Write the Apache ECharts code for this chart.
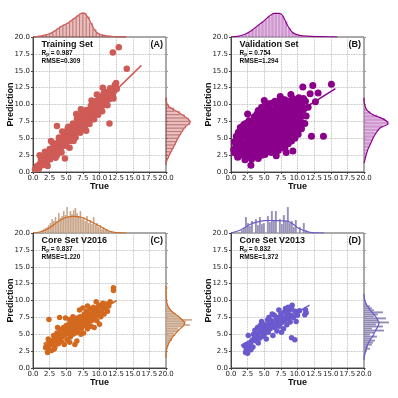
<!DOCTYPE html>
<html>
<head>
<meta charset="utf-8">
<script src="https://cdn.jsdelivr.net/npm/echarts@6/dist/echarts.min.js"></script>
<style>
  html, body { margin: 0; padding: 0; background: #fff; }
  #chart { width: 398px; height: 398px; }
</style>
</head>
<body>
<div id="chart"></div>
<script>
// values: [true, prediction]
const trainPoints = [
  [0.3,0.4],[0.6,0.9],[0.9,0.5],[1.0,1.2],[1.2,1.8],[1.4,1.0],[1.5,2.2],[1.7,1.4],[1.9,2.0],[2.0,2.6],
  [2.1,1.5],[2.3,2.1],[2.4,3.0],[2.5,2.4],[2.6,1.9],[2.8,2.8],[2.9,3.5],[3.0,2.5],[3.1,3.1],[3.2,3.9],
  [3.3,2.8],[3.4,3.3],[3.5,4.0],[3.6,3.0],[3.7,3.6],[3.8,4.4],[3.9,3.2],[4.0,3.9],[4.1,4.7],[4.2,3.6],
  [4.3,4.2],[4.4,5.0],[4.5,3.9],[4.6,4.5],[4.7,5.3],[4.8,4.2],[4.9,4.9],[5.0,5.6],[5.1,4.5],[5.2,5.2],
  [5.3,6.0],[5.4,4.8],[5.5,5.5],[5.6,6.3],[5.7,5.0],[5.8,5.8],[5.9,6.6],[6.0,5.3],[6.1,6.1],[6.2,6.8],
  [6.3,5.6],[6.4,6.4],[6.5,7.1],[6.6,5.9],[6.7,6.7],[6.8,7.4],[6.9,6.2],[7.0,7.0],[7.1,7.8],[7.2,6.5],
  [7.3,7.3],[7.4,8.0],[7.5,6.8],[7.6,7.6],[7.7,8.3],[7.8,7.1],[7.9,7.9],[8.0,8.6],[8.1,7.4],[8.2,8.2],
  [8.3,8.9],[8.4,7.7],[8.5,8.5],[8.6,9.2],[8.7,8.0],[8.8,8.8],[8.9,9.5],[9.0,8.3],[9.1,9.1],[9.2,9.8],
  [9.3,8.6],[9.4,9.4],[9.5,10.1],[9.6,8.9],[9.7,9.7],[9.8,10.4],[9.9,9.2],[10.0,10.0],[10.1,10.7],[10.2,9.5],
  [10.3,10.3],[10.5,11.0],[10.6,9.9],[10.7,10.6],[10.9,11.4],[11.0,10.3],[11.2,11.0],[11.4,11.8],[11.5,10.8],[11.7,11.5],
  [11.9,12.2],[12.0,11.4],[12.2,12.0],[12.4,12.7],[12.6,12.3],[12.3,12.9],
  [1.8,3.0],[2.2,0.9],[3.0,4.3],[3.4,2.1],[3.9,5.1],[4.3,2.9],[4.6,5.8],[5.0,3.9],[5.3,6.7],[5.8,4.6],
  [6.0,7.2],[6.4,5.1],[6.8,8.0],[7.1,5.8],[7.4,8.6],[7.8,6.5],[8.1,9.2],[8.5,7.1],[8.7,9.8],[9.2,7.8],
  [9.4,10.5],[9.8,8.5],[10.0,11.0],[10.4,9.0],[10.8,11.9],[11.2,9.9],[11.6,12.4],[12.1,10.9],[12.5,13.2],[5.2,6.4],
  [6.6,7.9],[7.9,9.1],[4.0,4.9],[9.0,10.2],[10.6,11.6],[2.5,3.4],[3.6,2.5],[6.2,5.0],[7.6,6.4],[8.9,7.8],
  [3.6,6.8],[12.0,17.7],[12.9,18.5],[14.1,15.3],[11.5,7.2],[9.6,11.5],[4.8,2.0],[1.0,2.5],[6.5,8.6],[8.0,6.1],
  [2.7,4.6],[5.5,3.6],[10.5,12.5],[7.2,9.3],[8.8,10.6],[6.1,4.6],[4.4,6.0],[9.9,11.2]
];
const validPoints = [
  [0.6,2.8],[0.7,3.7],[0.5,4.5],[0.8,5.3],
  [1.1,2.3],[1.2,3.2],[1.0,4.1],[1.3,5.0],[1.1,5.9],[1.4,6.6],
  [1.6,2.6],[1.7,3.5],[1.5,4.4],[1.8,5.3],[1.6,6.2],[1.9,7.0],
  [2.1,1.8],[2.2,2.7],[2.0,3.6],[2.3,4.5],[2.1,5.4],[2.4,6.3],[2.2,7.2],
  [2.6,2.2],[2.7,3.1],[2.5,4.0],[2.8,4.9],[2.6,5.8],[2.9,6.7],[2.7,7.6],
  [3.1,1.9],[3.2,2.8],[3.0,3.7],[3.3,4.6],[3.1,5.5],[3.4,6.4],[3.2,7.3],[3.5,8.2],
  [3.6,2.3],[3.7,3.2],[3.5,4.1],[3.8,5.0],[3.6,5.9],[3.9,6.8],[3.7,7.7],[3.9,8.6],
  [4.1,2.0],[4.2,2.9],[4.0,3.8],[4.3,4.7],[4.1,5.6],[4.4,6.5],[4.2,7.4],[4.3,8.3],[4.1,9.1],
  [4.6,2.5],[4.7,3.4],[4.5,4.3],[4.8,5.2],[4.6,6.1],[4.9,7.0],[4.7,7.9],[4.8,8.8],[4.6,9.6],
  [5.1,2.6],[5.2,3.5],[5.0,4.4],[5.3,5.3],[5.1,6.2],[5.4,7.1],[5.2,8.0],[5.3,8.9],[5.1,9.8],
  [5.6,3.0],[5.7,3.9],[5.5,4.8],[5.8,5.7],[5.6,6.6],[5.9,7.5],[5.7,8.4],[5.8,9.3],[5.6,10.1],
  [6.1,2.9],[6.2,3.8],[6.0,4.7],[6.3,5.6],[6.1,6.5],[6.4,7.4],[6.2,8.3],[6.3,9.2],[6.1,10.2],
  [6.6,3.3],[6.7,4.2],[6.5,5.1],[6.8,6.0],[6.6,6.9],[6.9,7.8],[6.7,8.7],[6.8,9.6],[6.6,10.5],
  [7.1,3.2],[7.2,4.1],[7.0,5.0],[7.3,5.9],[7.1,6.8],[7.4,7.7],[7.2,8.6],[7.3,9.5],[7.1,10.4],
  [7.6,3.6],[7.7,4.5],[7.5,5.4],[7.8,6.3],[7.6,7.2],[7.9,8.1],[7.7,9.0],[7.8,9.9],[7.6,10.8],
  [8.1,3.5],[8.2,4.4],[8.0,5.3],[8.3,6.2],[8.1,7.1],[8.4,8.0],[8.2,8.9],[8.3,9.8],[8.1,10.7],
  [8.6,4.2],[8.7,5.1],[8.5,6.0],[8.8,6.9],[8.6,7.8],[8.9,8.7],[8.7,9.6],[8.8,10.5],
  [9.1,4.6],[9.2,5.5],[9.0,6.4],[9.3,7.3],[9.1,8.2],[9.4,9.1],[9.2,10.0],[9.3,10.9],
  [9.6,5.0],[9.7,5.9],[9.5,6.8],[9.8,7.7],[9.6,8.6],[9.9,9.5],[9.7,10.4],
  [10.1,5.6],[10.2,6.5],[10.0,7.4],[10.3,8.3],[10.1,9.2],[10.4,10.1],[10.2,11.0],
  [10.6,6.4],[10.7,7.3],[10.5,8.2],[10.8,9.1],[10.6,10.0],[10.9,10.9],
  [11.1,7.2],[11.3,8.3],[11.0,9.4],[11.2,10.5],
  [3.0,1.0],[15.1,13.0],[13.9,5.3],[12.3,12.8],[10.8,12.6],[9.3,3.1],[12.1,5.3],[11.6,9.6],[12.7,10.4],[13.1,11.7],
  [1.0,2.2],[11.9,11.6],[0.4,3.3],[2.5,8.6],[5.0,10.6],[7.4,11.2],[9.0,11.5],[8.3,2.9],[6.8,2.4]
];
const core2016Points = [
  [2.2,2.3],[2.3,2.8],[2.4,3.3],[2.5,3.8],[2.3,4.3],[2.4,7.2],[2.8,2.6],[2.9,3.5],[3.0,4.1],[3.1,4.8],
  [3.3,3.1],[3.4,3.9],[3.5,4.5],[3.6,5.2],[3.8,3.6],[3.9,4.3],[4.0,5.0],[4.0,7.5],[4.1,5.7],[4.3,3.9],
  [4.4,4.6],[4.5,5.3],[4.6,6.0],[4.7,3.5],[4.8,4.9],[4.9,5.6],[5.0,6.3],[5.1,4.2],[5.2,5.1],[5.3,5.8],
  [5.4,6.5],[5.5,7.2],[5.6,4.6],[5.7,5.4],[5.8,6.1],[5.9,6.8],[6.0,5.0],[6.1,5.7],[6.2,6.4],[6.3,7.1],
  [6.3,3.5],[6.4,5.2],[6.5,6.0],[6.6,6.7],[6.7,7.4],[6.8,5.5],[6.9,6.2],[7.0,6.9],[7.1,7.6],[7.2,5.0],
  [7.3,5.9],[7.4,6.6],[7.5,7.3],[7.6,5.2],[7.7,8.0],[7.8,6.3],[7.9,7.0],[8.0,7.7],[8.1,8.4],[8.2,5.8],
  [8.3,6.6],[8.4,7.3],[8.5,8.0],[8.6,8.8],[8.7,6.2],[8.8,7.0],[8.9,7.7],[9.0,8.4],[9.1,9.0],[9.2,6.0],
  [9.3,7.3],[9.4,8.1],[9.5,8.8],[9.6,7.0],[9.7,7.8],[9.8,8.5],[9.9,9.3],[10.0,6.5],[10.2,7.6],[10.3,8.3],
  [10.4,9.0],[10.5,9.6],[10.7,8.0],[10.9,8.8],[11.0,9.5],[11.2,8.4],[11.4,9.2],[11.6,9.8],[12.1,11.9],[12.1,11.5],
  [3.2,2.8],[5.5,3.8],[6.6,4.0],[7.0,8.6],[8.2,9.2],[6.0,7.6],[4.9,7.4],[3.7,6.0],[9.5,9.8],[7.5,8.9],
  [2.0,3.3],[1.9,3.0]
];
const core2013Points = [
  [2.2,2.3],[2.3,2.7],[2.4,3.0],[2.3,3.5],[2.0,3.3],[2.6,4.8],[2.8,3.3],[3.0,3.8],[3.2,4.1],[3.3,3.1],
  [3.5,4.5],[3.6,5.6],[3.8,4.0],[3.9,4.9],[4.0,6.0],[4.2,5.2],[4.3,4.4],[4.4,6.3],[4.5,5.5],[4.6,6.9],
  [4.8,4.7],[4.9,5.8],[5.0,5.0],[5.1,6.4],[5.2,5.4],[5.4,6.0],[5.5,7.1],[5.6,5.3],[5.8,6.6],[5.9,5.8],
  [6.0,6.2],[6.1,7.0],[6.3,4.8],[6.4,6.5],[6.5,7.8],[6.6,6.0],[6.8,7.2],[6.9,5.5],[7.0,6.6],[7.1,7.5],
  [7.3,6.2],[7.4,7.0],[7.5,8.0],[7.6,6.7],[7.8,7.4],[7.9,5.8],[8.0,8.3],[8.1,7.0],[8.2,8.8],[8.3,7.6],
  [8.4,6.4],[8.5,8.1],[8.6,9.0],[8.7,7.3],[8.8,8.6],[8.9,6.8],[9.0,7.8],[9.1,8.9],[9.2,9.3],[9.1,4.5],
  [9.6,4.2],[9.4,7.5],[9.6,8.4],[9.8,6.9],[10.0,7.8],[10.3,8.5],[11.1,7.9],[11.3,8.2],[11.2,8.6],[3.0,2.7],
  [4.1,3.7],[5.3,4.3],[6.2,8.0],[7.2,8.6],[8.4,8.5],[7.6,5.3],[5.7,7.5],[4.7,6.0],[3.4,5.0],[2.5,2.2]
];

// regression line end points
const trainFit = [[0.1, 0.2], [16.3, 15.8]];
const validFit = [[0.0, 2.65], [15.7, 12.35]];
const core2016Fit = [[1.6, 3.6], [12.6, 10.0]];
const core2013Fit = [[1.5, 3.3], [11.8, 9.3]];

// marginal histograms (bar heights, arbitrary units)
const trainTrueHist = [0.2,0.5,1.1,1.9,2.7,4.0,6.0,8.2,10.5,12.3,14.0,16.2,18.8,21.3,23.5,24.0,20.0,13.5,7.5,3.8,2.3,1.5,1.0,0.6,0.4,0.25,0.15,0.1];
const trainPredHist = [0.2,0.8,2.5,4.0,5.8,7.7,9.5,11.0,12.8,15.0,17.0,19.5,24.0,22.5,18.5,13.5,8.0,3.0,0.8,0.3];
const validTrueHist = [0.2,0.5,0.9,1.8,3.2,5.0,7.2,10.0,12.5,15.0,17.5,20.5,23.0,24.0,24.0,21.5,15.5,9.0,5.0,2.8,1.7,1.0,0.7,0.5,0.4,0.3,0.25,0.2,0.15,0.1];
const validPredHist = [0.8,1.8,2.7,3.8,5.0,6.7,8.2,9.8,11.7,14.5,18.5,24.5,21.0,13.5,6.5,2.7,1.0,0.3];
const core2016TrueHist = [3,4,5,6,8,10,14,12,16,12,20,15,17,22,18,26,16,22,19,23,25,20,17,22,14,16,12,17,10,13,9,16,8,10,6,8,4,6,3,4,2,1.5,2,1];
const core2016PredHist = [0.5,1.5,2,3,2.5,4,6,5,7,9,8,11,13,12,16,24,18,20,26,15,13,10,8,6,5,3,2,1.5,1,0.5,0,0,0,0,0,0,0,1.5];
const core2013TrueHist = [3,5,16,10,7,12,0,14,8,16,9,10,0,17,11,22,13,22,0,14,9,18,12,26,10,12,6,13,0,6,0,10,3,2];
const core2013PredHist = [2,3,6,4,8,9,11,7,13,6,10,20,8,19,12,25,14,22,10,14,19,10,8,6,3];

// density curves: [value, density]
const trainTrueKde = [[0,0],[0.5,0.3],[1,0.8],[1.5,1.5],[2,2.3],[2.5,3.2],[3,5],[3.5,7],[4,9.5],[4.5,11.5],[5,13],[5.5,15],[6,17.5],[6.5,20],[7,22.5],[7.5,24.2],[8,22],[8.5,17],[9,10],[9.5,5],[10,2.8],[10.5,1.8],[11,1.2],[11.5,0.8],[12,0.5],[12.5,0.3],[13,0.2],[14,0.05]];
const trainPredKde = [[1.2,0],[1.5,0.3],[2.3,2.7],[3.0,5],[3.75,7.7],[4.5,10.2],[5.2,12.7],[6.0,16],[6.7,19.3],[7.1,22.5],[7.45,24.4],[7.95,21],[8.7,14],[9.2,8],[9.7,2.7],[10.3,0.5],[11,0]];
const validTrueKde = [[0,0.1],[1,0.7],[2,2.5],[3,6],[3.5,8.6],[4,11.2],[4.8,15.3],[5.8,21],[6.5,23.7],[7.3,23.7],[7.8,21],[8.5,11.5],[9.3,4.3],[10.3,1.7],[11.5,0.8],[13,0.4],[14.6,0.2],[16,0]];
const validPredKde = [[1.3,0],[2.0,1.2],[2.8,2.7],[3.5,4.3],[4.25,6.7],[5.0,9],[5.7,11.7],[6.3,14.5],[6.7,18],[7.1,24],[7.45,23.3],[7.95,18],[8.45,9.3],[9.2,2.7],[10.2,0.3],[11,0]];
const core2016TrueKde = [[0,0],[1,1.0],[2,3.3],[3,7.5],[3.8,11.7],[5,15.7],[6.3,16.7],[7.6,15],[8.8,11],[10.1,6.7],[11.3,2.3],[12.6,0.3],[14,0]];
const core2016PredKde = [[1.5,0],[2.7,0.5],[3.65,2.7],[4.6,6.7],[5.6,12.7],[6.2,17],[6.6,18.7],[7.0,17],[7.6,12.7],[8.6,4.3],[9.8,0.6],[11,0.1],[12.2,0]];
const core2013TrueKde = [[0,0],[1.5,3.3],[3,9],[4,11.2],[5,12.3],[6,12.5],[7,12.3],[8,12.2],[8.6,11.7],[9.4,8.5],[10.1,5],[11.3,1.7],[12.3,0.3],[14,0]];
const core2013PredKde = [[1.2,0],[1.7,0.3],[3.15,2.7],[4.0,5.5],[4.6,8.3],[5.6,11.7],[6.6,15],[7.6,11.7],[8.6,6],[9.4,2.5],[10.2,0.5],[11,0]];

const panels = [
  { name: 'Training Set', tag: '(A)', rp: '0.987', rmse: '0.309', color: '#cf5b56', size: 6.5,
    points: trainPoints, fit: trainFit,
    topHist: trainTrueHist, topBins: [0, 0.5], topKde: trainTrueKde,
    rightHist: trainPredHist, rightBins: [1, 0.5], rightKde: trainPredKde,
    fill: 'rgba(205,92,92,0.4)', edge: 'rgba(120,35,35,0.55)', edgeWidth: 0.5 },
  { name: 'Validation Set', tag: '(B)', rp: '0.754', rmse: '1.294', color: '#8b008b', size: 7,
    points: validPoints, fit: validFit,
    topHist: validTrueHist, topBins: [0, 0.5], topKde: validTrueKde,
    rightHist: validPredHist, rightBins: [1.5, 0.5], rightKde: validPredKde,
    fill: 'rgba(139,0,139,0.4)', edge: 'rgba(255,255,255,0.5)', edgeWidth: 0.5 },
  { name: 'Core Set V2016', tag: '(C)', rp: '0.837', rmse: '1.220', color: '#d2691e', size: 5.5,
    points: core2016Points, fit: core2016Fit,
    topHist: core2016TrueHist, topBins: [1.25, 0.25], topKde: core2016TrueKde,
    rightHist: core2016PredHist, rightBins: [2.5, 0.25], rightKde: core2016PredKde,
    fill: 'rgba(178,128,88,0.75)', edge: 'rgba(255,255,255,0.6)', edgeWidth: 0.3 },
  { name: 'Core Set V2013', tag: '(D)', rp: '0.832', rmse: '1.372', color: '#6a5acd', size: 5.5,
    points: core2013Points, fit: core2013Fit,
    topHist: core2013TrueHist, topBins: [1.5, 0.3], topKde: core2013TrueKde,
    rightHist: core2013PredHist, rightBins: [2.1, 0.3], rightKde: core2013PredKde,
    fill: 'rgba(110,100,155,0.75)', edge: 'rgba(255,255,255,0.6)', edgeWidth: 0.3 }
];

const W = 133, H = 135, M = 28;
const boxes = [[33, 37], [231, 37], [33, 233], [231, 233]];
const TICK_FONT = 'DejaVu Sans';
const TEXT_FONT = 'Liberation Sans';

function toBins(counts, [start, width]) {
  return counts.map((c, i) => [start + i * width, start + (i + 1) * width, c]);
}

function topRect(p) {
  return (params, api) => {
    const a = api.coord([api.value(0), api.value(2)]);
    const b = api.coord([api.value(1), 0]);
    return { type: 'rect', shape: { x: a[0], y: a[1], width: b[0] - a[0], height: b[1] - a[1] },
      style: { fill: p.fill, stroke: p.edge, lineWidth: p.edgeWidth } };
  };
}
function rightRect(p) {
  return (params, api) => {
    const a = api.coord([api.value(2), api.value(1)]);
    const b = api.coord([0, api.value(0)]);
    return { type: 'rect', shape: { x: b[0], y: a[1], width: a[0] - b[0], height: b[1] - a[1] },
      style: { fill: p.fill, stroke: p.edge, lineWidth: p.edgeWidth } };
  };
}

const grid = [], xAxis = [], yAxis = [], series = [], graphic = [];
const tickLabel = { fontSize: 7, color: '#222', fontFamily: TICK_FONT, margin: 3, formatter: v => v.toFixed(1) };
const dotted = { show: true, lineStyle: { type: 'dotted', color: '#aaa', width: 0.8 } };
const axisName = { fontFamily: TEXT_FONT, fontWeight: 'bold', fontSize: 9, color: '#111' };
const hidden = { show: false };

panels.forEach((p, i) => {
  const [left, top] = boxes[i];
  const g = grid.length;
  grid.push({ left, top, width: W, height: H, show: true, borderColor: '#555', borderWidth: 1 });
  grid.push({ left, top: top - M, width: W, height: M });
  grid.push({ left: left + W, top, width: M, height: H });

  xAxis.push({ gridIndex: g, type: 'value', min: 0, max: 20, interval: 2.5,
    name: 'True', nameLocation: 'middle', nameGap: 10.5, nameMoveOverlap: false, nameTextStyle: axisName,
    axisLine: { show: true, lineStyle: { color: '#444' } },
    axisTick: { show: true, length: 2, lineStyle: { color: '#444' } },
    axisLabel: tickLabel, splitLine: dotted });
  yAxis.push({ gridIndex: g, type: 'value', min: 0, max: 20, interval: 2.5,
    name: 'Prediction', nameLocation: 'middle', nameGap: 18, nameMoveOverlap: false, nameTextStyle: axisName,
    axisLine: { show: true, lineStyle: { color: '#444' } },
    axisTick: { show: true, length: 2, lineStyle: { color: '#444' } },
    axisLabel: tickLabel, splitLine: dotted });

  xAxis.push({ gridIndex: g + 1, type: 'value', min: 0, max: 20, ...hidden });
  yAxis.push({ gridIndex: g + 1, type: 'value', min: 0, max: M, ...hidden });
  xAxis.push({ gridIndex: g + 2, type: 'value', min: 0, max: M, ...hidden });
  yAxis.push({ gridIndex: g + 2, type: 'value', min: 0, max: 20, interval: 2.5,
    axisLine: hidden, axisLabel: hidden, splitLine: hidden,
    axisTick: { show: true, inside: true, length: 2, lineStyle: { color: '#999' } } });

  series.push({ type: 'scatter', xAxisIndex: g, yAxisIndex: g, data: p.points,
    symbolSize: p.size, itemStyle: { color: p.color, opacity: 1 } });
  series.push({ type: 'line', xAxisIndex: g, yAxisIndex: g, data: p.fit, symbol: 'none',
    lineStyle: { color: p.color, width: 1.5 }, z: 3 });

  series.push({ type: 'custom', xAxisIndex: g + 1, yAxisIndex: g + 1,
    data: toBins(p.topHist, p.topBins), renderItem: topRect(p) });
  series.push({ type: 'line', xAxisIndex: g + 1, yAxisIndex: g + 1, data: p.topKde,
    smooth: 0.3, symbol: 'none', lineStyle: { color: p.color, width: 1.2 }, z: 3 });

  series.push({ type: 'custom', xAxisIndex: g + 2, yAxisIndex: g + 2,
    data: toBins(p.rightHist, p.rightBins), renderItem: rightRect(p) });
  series.push({ type: 'line', xAxisIndex: g + 2, yAxisIndex: g + 2,
    data: p.rightKde.map(([y, d]) => [d, y]),
    smooth: 0.3, symbol: 'none', lineStyle: { color: p.color, width: 1.2 }, z: 3 });

  graphic.push({ type: 'text', x: left + 8.5, y: top + 8, z: 10,
    style: { text: p.name, fontFamily: TEXT_FONT, fontWeight: 'bold', fontSize: 9, fill: '#111', align: 'left', verticalAlign: 'middle' } });
  graphic.push({ type: 'text', x: left + W - 3, y: top + 8, z: 10,
    style: { text: p.tag, fontFamily: TEXT_FONT, fontWeight: 'bold', fontSize: 9, fill: '#111', align: 'right', verticalAlign: 'middle' } });
  graphic.push({ type: 'text', x: left + 8.5, y: top + 16.5, z: 10,
    style: { text: '{b|R}{s|p}{b| = ' + p.rp + '}', align: 'left', verticalAlign: 'middle',
      rich: {
        b: { fontFamily: TEXT_FONT, fontWeight: 'bold', fontSize: 6.5, fill: '#111', lineHeight: 8, verticalAlign: 'middle' },
        s: { fontFamily: TEXT_FONT, fontWeight: 'bold', fontSize: 4.5, fill: '#111', lineHeight: 8, verticalAlign: 'bottom' }
      } } });
  graphic.push({ type: 'text', x: left + 8.5, y: top + 24, z: 10,
    style: { text: 'RMSE=' + p.rmse, fontFamily: TEXT_FONT, fontWeight: 'bold', fontSize: 6.5, fill: '#111', align: 'left', verticalAlign: 'middle' } });
});

const chart = echarts.init(document.getElementById('chart'));
chart.setOption({ animation: false, backgroundColor: '#fff', grid, xAxis, yAxis, series, graphic });
</script>
</body>
</html>
